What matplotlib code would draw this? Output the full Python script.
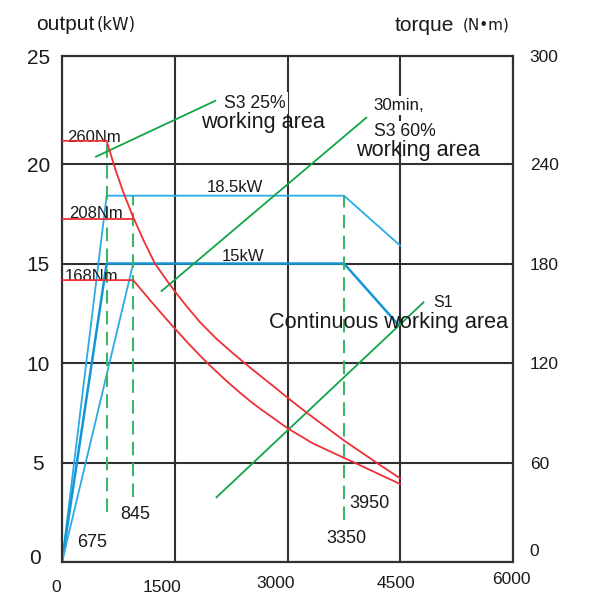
import matplotlib

matplotlib.use("Agg")
import matplotlib.pyplot as plt
from matplotlib.transforms import ScaledTranslation

# axes: speed (rpm) / output (kW) left / torque (N·m) right, 5 kW <-> 60 N·m
X_TICKS = [0, 1500, 3000, 4500, 6000]
X_LABELS = ["0", "1500", "3000", "4500", "6000"]
Y_TOP = 25.43
Y_TICKS = [0, 5, 10, 15, 20, Y_TOP]
Y_LABELS = ["0", "5", "10", "15", "20", "25"]
T_TOP = Y_TOP * 12
T_TICKS = [0, 60, 120, 180, 240, T_TOP]
T_LABELS = ["0", "60", "120", "180", "240", "300"]

# torque curves (N·m)
S3_25_SPEED = [0, 594, 704, 814, 939, 1089, 1236, 1391, 1501, 1657, 1833, 2055,
               2276, 2498, 2807, 3003, 3251, 3760, 4181, 4500]
S3_25_TORQUE = [254, 254, 237.6, 223.2, 208.8, 193.6, 180, 170, 163.2, 154.3, 144.8, 134.6,
                125.8, 117.4, 106.2, 99, 90.2, 73, 60, 50.4]
T208_SPEED = [0, 939]
T208_TORQUE = [207, 207]
S1_SPEED = [0, 947, 1169, 1391, 1501, 1657, 1833, 1966, 2188, 2365, 2498, 2631,
            3003, 3339, 3760, 3870, 4225, 4500]
S1_TORQUE = [170, 170, 158, 146.4, 140.8, 133, 124.6, 118.6, 109.2, 102.2, 97.2, 92.6,
             80.6, 71.5, 62.6, 60.4, 52.8, 47]

# power curves (kW)
P185_SPEED = [0, 594, 3751, 4500]
P185_KW = [0, 18.41, 18.41, 15.9]
P15_SPEED = [0, 594, 3751, 4480]
P15_KW = [0, 15.0, 15.0, 11.9]
P15B_SPEED = [0, 947]
P15B_KW = [0, 15.0]

# base-speed markers (dashed) and leader lines
BASE_SPEED = [594, 947, 3751]
BASE_LO = [2.53, 3.28, 2.11]
BASE_HI = [21.12, 18.41, 18.41]
LEADER_X = [(452, 2040), (1325, 4048), (2055, 4810)]
LEADER_Y = [(20.37, 23.18), (13.62, 22.33), (3.25, 13.05)]

RED = "#ee3035"
BLUE = "#2aaae6"
BLUE_D = "#1296d6"
GREEN = "#12a448"
GREEN_D = "#3bb56a"
GRID = "#303030"
INK = "#1a1a1a"
FONT = "Liberation Sans"

fig = plt.figure(figsize=(6.01, 5.98), dpi=100)
ax = fig.add_axes([62 / 601, 36 / 598, 451 / 601, 506 / 598])
ax2 = ax.twinx()

ax.set_xlim(0, 6000)
ax.set_ylim(0, Y_TOP)
ax2.set_ylim(0, T_TOP)
ax.set_xticks(X_TICKS, X_LABELS, fontfamily=FONT, fontsize=12.5)
ax.set_yticks(Y_TICKS, Y_LABELS, fontfamily=FONT, fontsize=15)
ax2.set_yticks(T_TICKS, T_LABELS, fontfamily=FONT, fontsize=12.5)
ax.tick_params(axis="x", length=0, pad=18, colors=INK)
ax.tick_params(axis="y", length=0, pad=17, colors=INK)
ax2.tick_params(axis="y", length=0, pad=12, colors=INK)
for spine in list(ax.spines.values()) + list(ax2.spines.values()):
    spine.set_color(GRID)
    spine.set_linewidth(1.5)
ax.grid(color=GRID, linewidth=1.5, zorder=0)
ax.set_axisbelow(True)


def shift(lbl, dx, dy):
    lbl.set_transform(lbl.get_transform() + ScaledTranslation(dx / 100, dy / 100, fig.dpi_scale_trans))


for lbl, (dx, dy) in zip(ax.get_xticklabels(), [(-6, 0), (-13, 0), (-12, 3), (-4, 3), (-2, 7)]):
    lbl.set_va("center")
    shift(lbl, dx, dy)
for lbl in ax.get_yticklabels():
    lbl.set_ha("center")
shift(ax.get_yticklabels()[0], -3, 5)
shift(ax2.get_yticklabels()[0], 0, 12)

# torque curves on the right axis
ax2.plot(S3_25_SPEED, S3_25_TORQUE, color=RED, lw=1.3, zorder=3)
ax2.plot(T208_SPEED, T208_TORQUE, color=RED, lw=1.3, zorder=3)
ax2.plot(S1_SPEED, S1_TORQUE, color=RED, lw=1.3, zorder=3)

# power curves on the left axis
ax.plot(P185_SPEED, P185_KW, color=BLUE, lw=1.3, zorder=3)
ax.plot(P15_SPEED, P15_KW, color=BLUE_D, lw=1.8, zorder=3)
ax.plot(P15B_SPEED, P15B_KW, color=BLUE, lw=1.3, zorder=3)

ax.vlines(BASE_SPEED, BASE_LO, BASE_HI, colors=GREEN_D, linewidth=1.5,
          linestyles=(0, (6.5, 3.5)), zorder=3)
for xs, ys in zip(LEADER_X, LEADER_Y):
    ax.plot(xs, ys, color=GREEN, lw=1.3, zorder=3)

txt = dict(color=INK, fontfamily=FONT, va="baseline")
box = dict(boxstyle="square,pad=0.12", facecolor="white", edgecolor="none")
ax.text(62, 21.12, "260Nm", fontsize=12, zorder=6, **txt)
ax.text(97, 17.29, "208Nm", fontsize=12, zorder=6, **txt)
ax.text(40, 14.12, "168Nm", fontsize=12, zorder=6, **txt)
ax.text(2298, 18.59, "18.5kW", fontsize=12, ha="center", **txt)
ax.text(2405, 15.14, "15kW", fontsize=12, ha="center", **txt)
ax.text(2152, 22.84, "S3 25%", fontsize=12.7, bbox=box, zorder=6, **txt)
ax.text(4149, 22.71, "30min,", fontsize=12.2, bbox=box, zorder=6, **txt)
ax.text(4149, 21.4, "S3 60%", fontsize=12.7, bbox=box, zorder=6, **txt)
ax.text(4934, 12.83, "S1", fontsize=11.5, zorder=6, **txt)
ax.text(1843, 21.79, "working area", fontsize=15.6, zorder=6, **txt)
ax.text(3906, 20.42, "working area", fontsize=15.6, zorder=6, **txt)
ax.text(2750, 11.74, "Continuous working area", fontsize=15.6, zorder=6, **txt)
ax.text(399, 0.77, "675", fontsize=13, ha="center", **txt)
ax.text(977, 2.16, "845", fontsize=13, ha="center", **txt)
ax.text(4085, 2.71, "3950", fontsize=13, ha="center", **txt)
ax.text(3780, 0.97, "3350", fontsize=13, ha="center", **txt)

fig.text(36 / 601, 1 - 30 / 598, "output", fontsize=15, fontfamily=FONT, color=INK, va="baseline")
fig.text(97 / 601, 1 - 30 / 598, "(kW)", fontsize=12, fontfamily="DejaVu Sans", color=INK, va="baseline")
fig.text(395 / 601, 1 - 31 / 598, "torque", fontsize=15, fontfamily=FONT, color=INK, va="baseline")
fig.text(463 / 601, 1 - 29 / 598, "(N•m)", fontsize=11, fontfamily="DejaVu Sans", color=INK, va="baseline")

fig.savefig("out.png", facecolor="white")
